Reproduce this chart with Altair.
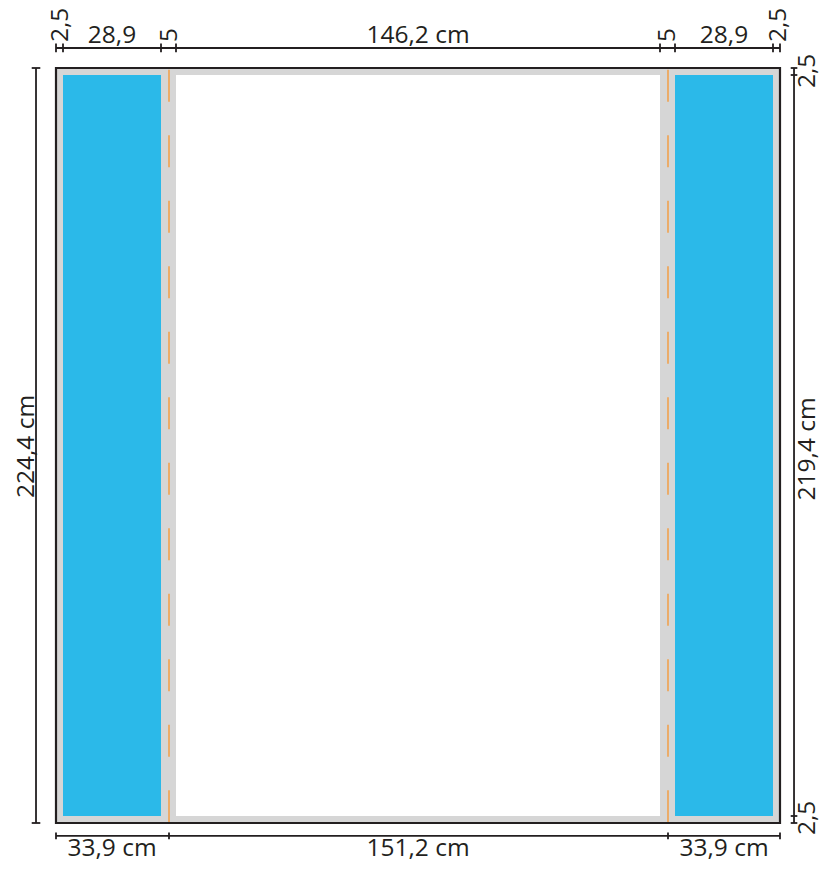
import altair as alt
import pandas as pd

# Scales: centimetres of the drawing mapped onto the page, section by section
x_domain = [-14.55, 0, 2.5, 31.4, 33.9, 36.4, 182.6, 185.1, 187.6, 216.5, 219, 231.7]
x_range = [0, 48, 55, 153, 161, 168, 652, 660, 667, 765, 772, 814]
y_domain = [-17.8, 0, 2.5, 221.9, 224.4, 236.6]
y_range = [0, 60, 67, 808, 815, 856]

INK = "#231f20"
GREY = "#d6d6d6"
BLUE = "#2bb9e9"
ORANGE = "#f0a24f"

# Rectangles (x0, x1, y0, y1, colour)
rect_x0 = [0, 36.4, 2.5, 187.6]
rect_x1 = [219, 182.6, 31.4, 216.5]
rect_y0 = [0, 2.5, 2.5, 2.5]
rect_y1 = [224.4, 221.9, 221.9, 221.9]
rect_fill = [GREY, "#ffffff", BLUE, BLUE]

# Dimension lines
dim_top = -5.94
dim_bottom = 228.26
dim_left = -6.06
dim_right = 223.24
cap_left = 1.3
cap_right = 1.0
cap_top = 1.3
cap_bottom = 1.0

top_ticks = [0, 2.5, 31.4, 36.4, 182.6, 187.6, 216.5, 219]
bottom_ticks = [0, 33.9, 185.1, 219]
left_ticks = [0, 224.4]
right_ticks = [0, 2.5, 221.9, 224.4]

fold_x = [33.9, 185.1]
fold_y0 = 0.6
fold_y1 = 224.4

# Labels
h_text = ["28,9", "146,2 cm", "28,9", "33,9 cm", "151,2 cm", "33,9 cm"]
h_x = [16.95, 109.5, 202.05, 16.95, 109.5, 202.05]
h_y = [-7.43, -7.43, -7.43, 234.35, 234.35, 234.35]

v_text = ["2,5", "5", "5", "2,5", "2,5", "2,5", "224,4 cm", "219,4 cm"]
v_x = [3.97, 36.7, 187.6, 220.8, 229.45, 229.45, -6.52, 229.45]
v_y = [-7.7, -7.7, -7.7, -7.7, 6.35, 228, 112.5, 113.2]
v_align = ["left", "left", "left", "left", "left", "left", "center", "center"]

X = alt.X("x:Q", scale=alt.Scale(domain=x_domain, range=x_range), axis=None)
Y = alt.Y("y:Q", scale=alt.Scale(domain=y_domain, range=y_range), axis=None)

rects = pd.DataFrame({"x": rect_x0, "x2": rect_x1, "y": rect_y0, "y2": rect_y1, "fill": rect_fill})
rect_layer = alt.Chart(rects).mark_rect().encode(
    x=X, x2="x2:Q", y=Y, y2="y2:Q", fill=alt.Fill("fill:N", scale=None)
)
frame_layer = alt.Chart(rects.iloc[[0]]).mark_rect(
    fillOpacity=0, stroke=INK, strokeWidth=2.2
).encode(x=X, x2="x2:Q", y=Y, y2="y2:Q")

fold_df = pd.DataFrame({"x": fold_x, "y": [fold_y0] * 2, "y2": [fold_y1] * 2})
fold_layer = alt.Chart(fold_df).mark_rule(
    color=ORANGE, strokeWidth=1.6, strokeDash=[32, 33.5]
).encode(x=X, y=Y, y2="y2:Q")

segments = []
segments.append((top_ticks[0], top_ticks[-1], dim_top, dim_top))
segments.append((bottom_ticks[0], bottom_ticks[-1], dim_bottom, dim_bottom))
segments.append((dim_left, dim_left, left_ticks[0], left_ticks[-1]))
segments.append((dim_right, dim_right, right_ticks[0], right_ticks[-1]))
for t in top_ticks:
    segments.append((t, t, dim_top - cap_top, dim_top + cap_top))
for t in bottom_ticks:
    segments.append((t, t, dim_bottom - cap_bottom, dim_bottom + cap_bottom))
for t in left_ticks:
    segments.append((dim_left - cap_left, dim_left + cap_left, t, t))
for t in right_ticks:
    segments.append((dim_right - cap_right, dim_right + cap_right, t, t))
seg_df = pd.DataFrame(segments, columns=["x", "x2", "y", "y2"])
dim_layer = alt.Chart(seg_df).mark_rule(color=INK, strokeWidth=1.8).encode(
    x=X, x2="x2:Q", y=Y, y2="y2:Q"
)

FONT = "Open Sans"
SIZE = 24.5
h_layer = alt.Chart(pd.DataFrame({"x": h_x, "y": h_y, "t": h_text})).mark_text(
    font=FONT, fontSize=SIZE, color=INK, baseline="alphabetic", align="center"
).encode(x=X, y=Y, text="t:N")

v_df = pd.DataFrame({"x": v_x, "y": v_y, "t": v_text, "a": v_align})
v_left = alt.Chart(v_df[v_df.a == "left"]).mark_text(
    font=FONT, fontSize=SIZE, color=INK, baseline="alphabetic", align="left", angle=270
).encode(x=X, y=Y, text="t:N")
v_center = alt.Chart(v_df[v_df.a == "center"]).mark_text(
    font=FONT, fontSize=SIZE, color=INK, baseline="alphabetic", align="center", angle=270
).encode(x=X, y=Y, text="t:N")

chart = alt.layer(
    rect_layer, fold_layer, frame_layer, dim_layer, h_layer, v_left, v_center
).properties(
    width=814, height=856, padding=0, autosize=alt.AutoSizeParams(type="none"),
    background="#ffffff"
).configure_view(stroke=None)

chart.save("out.html", embed_options={"renderer": "svg", "actions": False})
